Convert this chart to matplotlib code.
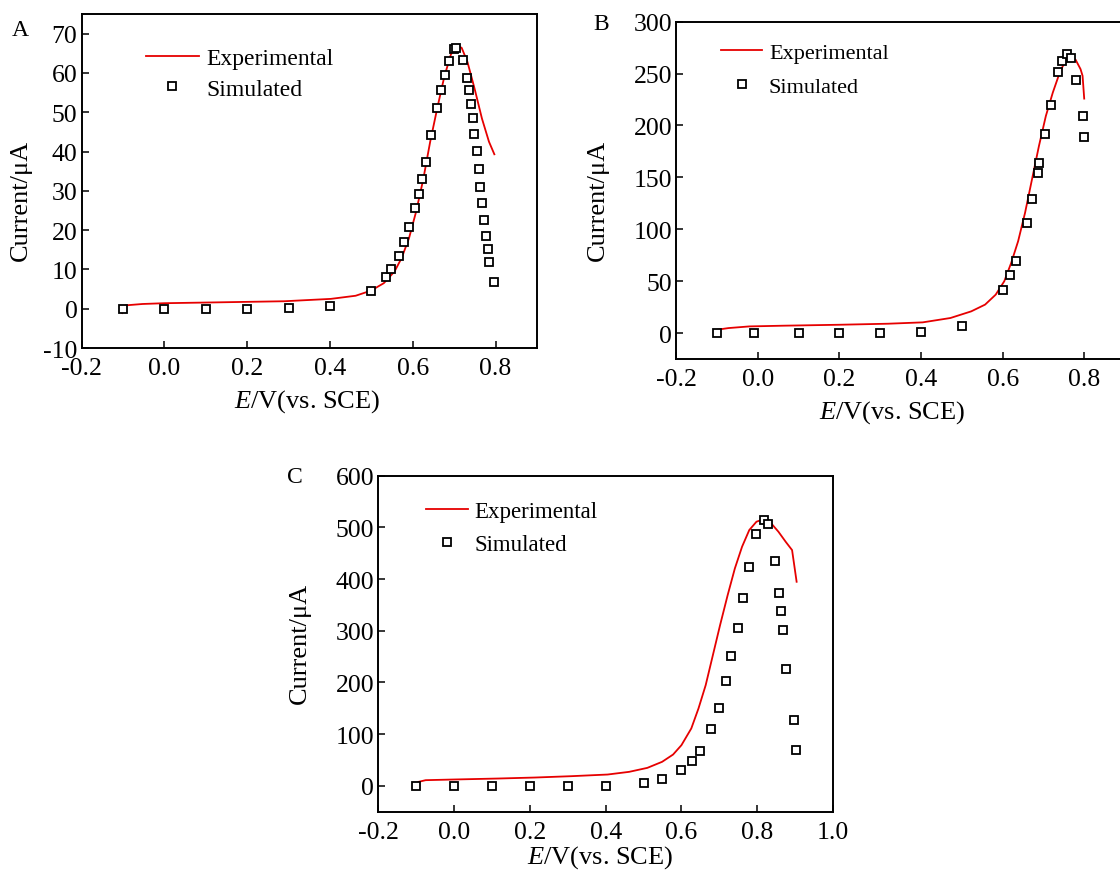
import numpy as np
import matplotlib
matplotlib.use("Agg")
import matplotlib.pyplot as plt

plt.rcParams['font.family'] = 'serif'
plt.rcParams['font.serif'] = ['Liberation Serif', 'DejaVu Serif']
plt.rcParams['mathtext.fontset'] = 'custom'
plt.rcParams['mathtext.rm'] = 'Liberation Serif'
plt.rcParams['mathtext.it'] = 'Liberation Serif:italic'
plt.rcParams['axes.unicode_minus'] = False

# ---- panel A ----
a_sim_x = [-0.1, 0.0, 0.1, 0.2, 0.3, 0.4, 0.5, 0.535, 0.548, 0.566, 0.579, 0.591, 0.605,
           0.615, 0.623, 0.633, 0.645, 0.659, 0.669, 0.677, 0.687, 0.699, 0.705, 0.721,
           0.732, 0.736, 0.741, 0.745, 0.749, 0.754, 0.759, 0.763, 0.767, 0.772, 0.777,
           0.781, 0.785, 0.795]
a_sim_y = [0, 0, 0, 0, 0.2, 0.8, 4.4, 8.0, 10.1, 13.5, 16.9, 20.8, 25.7,
           29.2, 33.1, 37.3, 44.1, 51.1, 55.6, 59.6, 63.0, 66.2, 66.4, 63.2,
           58.6, 55.6, 52.2, 48.5, 44.4, 40.1, 35.6, 31.1, 26.8, 22.6, 18.6,
           15.1, 11.8, 6.8]
a_exp_x = [-0.102, -0.094, -0.053, 0.0, 0.118, 0.29, 0.402, 0.462, 0.499, 0.53, 0.556,
           0.573, 0.591, 0.608, 0.625, 0.642, 0.659, 0.676, 0.692, 0.706, 0.718, 0.732,
           0.749, 0.767, 0.784, 0.797]
a_exp_y = [-1.1, 0.85, 1.2, 1.4, 1.6, 1.9, 2.5, 3.3, 4.6, 6.5, 9.5,
           12.9, 18.0, 24.7, 32.8, 42.5, 51.0, 59.0, 64.7, 66.9, 66.4, 62.8,
           56.1, 48.4, 42.5, 39.3]

# ---- panel B ----
b_sim_x = [-0.1, -0.01, 0.1, 0.2, 0.3, 0.4, 0.5, 0.6, 0.619, 0.633, 0.659, 0.673, 0.686,
           0.69, 0.705, 0.718, 0.736, 0.746, 0.758, 0.767, 0.781, 0.797, 0.8]
b_sim_y = [0, 0, 0, 0, 0, 0.6, 7.1, 41.2, 56.0, 69.5, 105.9, 128.7, 154.2,
           163.5, 191.5, 219.5, 251.4, 262.3, 268.4, 264.6, 243.6, 209.5, 189.2]
b_exp_x = [-0.1, -0.072, -0.021, 0.064, 0.2, 0.319, 0.404, 0.472, 0.523, 0.557, 0.583,
           0.604, 0.621, 0.638, 0.655, 0.672, 0.689, 0.706, 0.723, 0.74, 0.755, 0.766,
           0.779, 0.791, 0.796, 0.8]
b_exp_y = [3.2, 4.8, 6.4, 7.1, 8.0, 9.0, 10.3, 14.5, 20.9, 27.4, 37.0,
           49.9, 67.6, 88.5, 115.9, 148.1, 180.2, 209.2, 231.7, 251.0, 263.3, 267.1,
           263.3, 254.3, 247.8, 225.9]

# ---- panel C ----
c_sim_x = [-0.1, 0.0, 0.1, 0.2, 0.3, 0.4, 0.5, 0.55, 0.6, 0.627, 0.648, 0.677, 0.699,
           0.717, 0.732, 0.748, 0.763, 0.778, 0.796, 0.818, 0.828, 0.848, 0.858, 0.864,
           0.867, 0.877, 0.896, 0.902]
c_sim_y = [0, 0, 0, 0, 0, 0, 5.8, 12.9, 31.6, 48.4, 67.7, 110.3, 151.0,
           203.2, 251.6, 305.8, 363.9, 423.2, 487.1, 514.2, 505.8, 434.2, 373.5, 338.7,
           301.9, 226.5, 127.1, 70.3]
c_exp_x = [-0.094, -0.075, 0.0, 0.117, 0.213, 0.309, 0.405, 0.462, 0.51, 0.549, 0.578,
           0.6, 0.626, 0.645, 0.664, 0.683, 0.702, 0.722, 0.741, 0.76, 0.779, 0.798,
           0.818, 0.837, 0.856, 0.875, 0.892, 0.904]
c_exp_y = [7.7, 11.0, 12.3, 14.2, 16.1, 18.7, 21.9, 27.1, 34.8, 46.5, 60.6,
           78.7, 111.0, 149.7, 194.8, 252.9, 311.0, 369.0, 420.6, 462.6, 494.8, 511.0,
           516.1, 507.7, 491.6, 472.3, 456.1, 394.8]

W, H = 1120, 879
fig = plt.figure(figsize=(W / 100, H / 100), dpi=100)


def px(x, y):
    return x / W, 1 - y / H


def make_axes(l, t, r, b):
    return fig.add_axes([l / W, 1 - b / H, (r - l) / W, (b - t) / H])


def draw_panel(ax, ex, ey, sx, sy, xlim, ylim, xticks, yticks, leg_anchor, hlen, lspace, lsize):
    ax.plot(ex, ey, color='#e60000', lw=1.3, label='Experimental')
    ax.plot(sx, sy, ls='none', marker='s', ms=5.5, mfc='white', mec='black', mew=1.3,
            label='Simulated')
    ax.set_xlim(xlim)
    ax.set_ylim(ylim)
    ax.set_xticks(xticks)
    ax.set_xticklabels(['%.1f' % v for v in xticks])
    ax.set_yticks(yticks)
    ax.tick_params(direction='in', length=5, width=1.1, labelsize=18.5)
    ax.tick_params(axis='x', pad=6.5)
    ax.tick_params(axis='y', pad=3)
    for s in ax.spines.values():
        s.set_linewidth(1.4)
    ax.legend(loc='upper left', bbox_to_anchor=leg_anchor, frameon=False, fontsize=lsize,
              borderpad=0, borderaxespad=0, handlelength=hlen, handletextpad=0.3,
              labelspacing=lspace)


axA = make_axes(81.6, 15, 537, 349)
draw_panel(axA, a_exp_x, a_exp_y, a_sim_x, a_sim_y, (-0.2, 0.9), (-10, 75),
           np.arange(-0.2, 0.81, 0.2), np.arange(-10, 71, 10), (0.141, 0.899), 2.25, 0.38, 17)

axB = make_axes(676.3, 22.7, 1125, 360)
draw_panel(axB, b_exp_x, b_exp_y, b_sim_x, b_sim_y, (-0.2, 0.9), (-25, 300),
           np.arange(-0.2, 0.81, 0.2), np.arange(0, 301, 50), (0.1, 0.939), 1.85, 0.6, 16)

axC = make_axes(378.3, 476.7, 833, 812.7)
draw_panel(axC, c_exp_x, c_exp_y, c_sim_x, c_sim_y, (-0.2, 1.0), (-50, 600),
           np.arange(-0.2, 1.01, 0.2), np.arange(0, 601, 100), (0.106, 0.926), 1.8, 0.52, 16.5)

# panel letters, axis labels
for letter, (x, y) in [('A', (20, 30)), ('B', (601, 25)), ('C', (295, 478))]:
    fig.text(*px(x, y), letter, fontsize=17, ha='center', va='center')
for (x, y) in [(21, 200), (598, 200), (300, 643)]:
    fig.text(*px(x, y), 'Current/\u03bcA', fontsize=19, rotation=90, ha='center', va='center')
for (x, y) in [(307, 402), (892, 413), (600, 858)]:
    fig.text(*px(x, y), r'$E$/V(vs. SCE)', fontsize=19, ha='center', va='center')

fig.savefig('out.png', dpi=100)
